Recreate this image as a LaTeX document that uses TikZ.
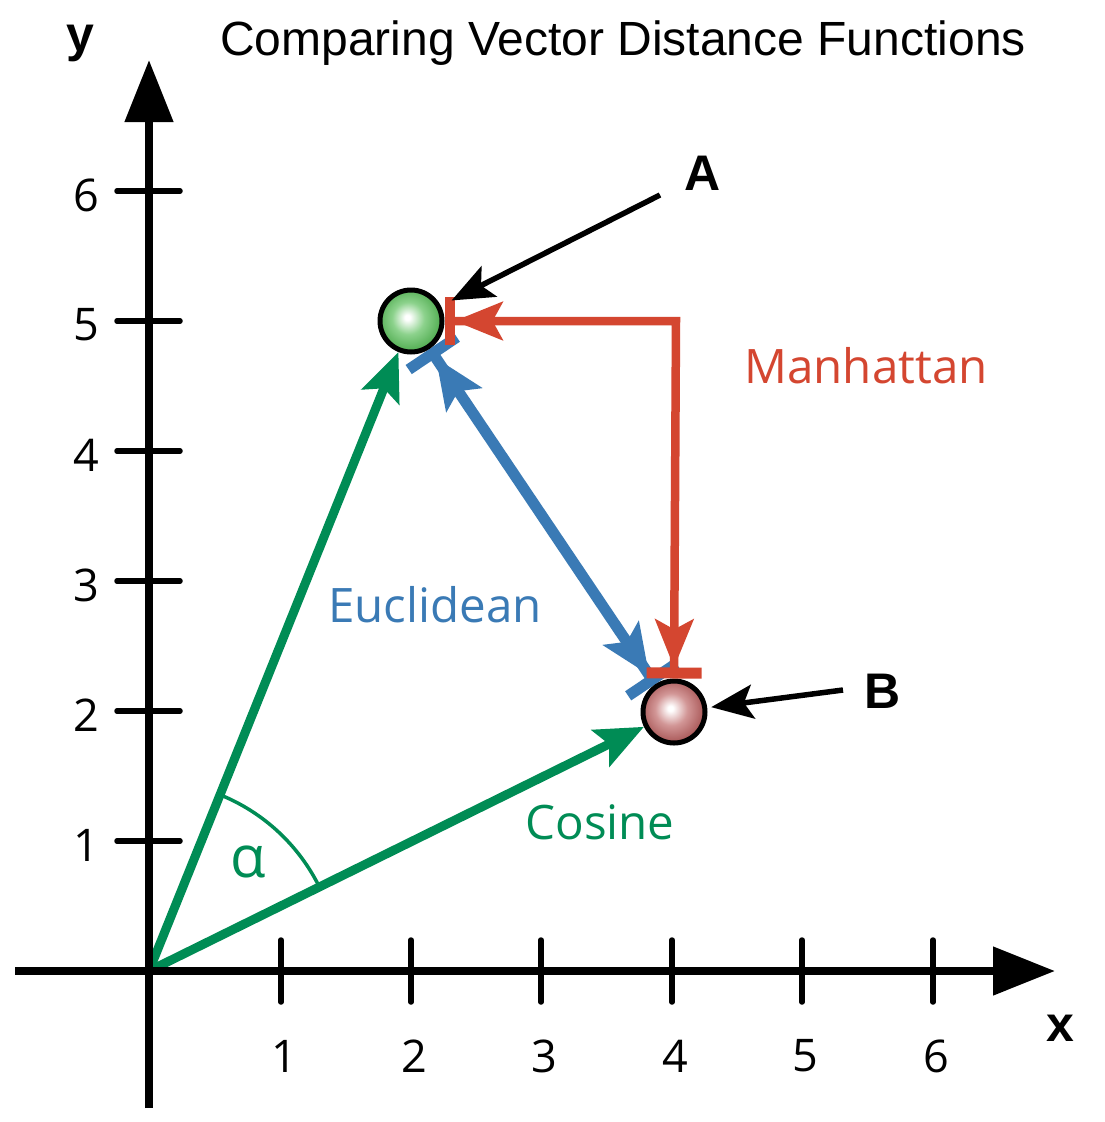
\documentclass[tikz,border=0pt]{standalone}
\usepackage{fontspec}
\setmainfont{Open Sans}
\newfontfamily\arialfont{Liberation Sans}
\usetikzlibrary{arrows.meta,calc,backgrounds}
\definecolor{cgreen}{RGB}{0,140,85}
\definecolor{cblue}{RGB}{58,122,181}
\definecolor{cred}{RGB}{212,70,48}
\definecolor{gedge}{RGB}{85,175,85}
\definecolor{gmid}{RGB}{140,210,140}
\definecolor{redge}{RGB}{172,92,92}
\definecolor{rmid}{RGB}{210,150,150}
\pgfdeclareradialshading{greenball}{\pgfpoint{-3bp}{3bp}}{color(0bp)=(white); color(2bp)=(white); color(13bp)=(gmid); color(25bp)=(gedge); color(50bp)=(gedge)}
\pgfdeclareradialshading{redball}{\pgfpoint{-3bp}{3bp}}{color(0bp)=(white); color(2bp)=(white); color(13bp)=(rmid); color(25bp)=(redge); color(50bp)=(redge)}
\begin{document}
\begin{tikzpicture}[x=1pt,y=-1pt,
  axis/.style={line width=8pt,-{Triangle[length=62pt,width=47pt]}},
  tickmark/.style={line width=5.5pt,line cap=round},
  ticklbl/.style={font=\fontsize{45}{54}\selectfont,inner sep=0pt},
  lbl/.style={font=\fontsize{47.5}{56}\selectfont,inner sep=0pt,anchor=base},
  boldlbl/.style={font=\arialfont\bfseries\fontsize{50}{60}\selectfont,inner sep=0pt},
  ballnode/.style={circle,draw=black,line width=5pt,minimum size=62pt,inner sep=0pt},
  vec/.style={cgreen,line width=9pt,-{Stealth[length=48pt,width=40pt,inset=9pt]}},
  pointer/.style={black,line width=5.5pt,-{Stealth[length=42pt,width=34pt,inset=9pt]}},
  eucl/.style={cblue,line width=11pt,
    {Bar[width=58pt,line width=11pt,sep=0pt]Stealth[length=50pt,width=42pt,inset=10pt,sep=0pt]}-{Stealth[length=50pt,width=42pt,inset=10pt,sep=0pt]Bar[width=58pt,line width=11pt,sep=0pt]}},
  manh/.style={cred,line width=8.5pt,
    {Bar[width=48pt,line width=10pt,sep=0pt]Stealth[length=48pt,width=38pt,inset=10pt,sep=0pt]}-{Stealth[length=48pt,width=38pt,inset=10pt,sep=0pt]Bar[width=55pt,line width=11pt,sep=0pt]}}
]
\useasboundingbox (0,0) rectangle (1104,1122);
\begin{pgfonlayer}{background}
  \fill[white] (0,0) rectangle (1104,1122);
\end{pgfonlayer}

% axes
\coordinate (O) at (149,971);
\draw[axis] (149,1108) -- (149,60);
\draw[axis] (15,971) -- (1055,971);
\foreach \i/\x in {1/281,2/411,3/541,4/672,5/802,6/933}{
  \draw[tickmark] (\x,940) -- (\x,1002);
  \node[ticklbl] (xl\i) at (\x+3,1056) {\i};
}
\foreach \i/\y in {1/841,2/711,3/581,4/451,5/321,6/191}{
  \draw[tickmark] (117,\y) -- (180,\y);
  \node[ticklbl] (yl\i) at (86,\y+4) {\i};
}
\node[boldlbl] (ylab) at (80,43) {y};
\node[boldlbl] (xlab) at (1060,1028) {x};
\node[font=\arialfont\fontsize{48}{57}\selectfont,inner sep=0pt,anchor=base] (title) at (623,55) {Comparing Vector Distance Functions};

% points
\node[ballnode,shading=greenball] (A) at (411,321) {};
\node[ballnode,shading=redball] (B) at (674,712) {};

\begin{pgfonlayer}{background}
  \draw[vec] (O) -- (A);
  \draw[vec] (O) -- (B);
  \draw[eucl] (A) -- (B);
\end{pgfonlayer}
\draw[cgreen,line width=3.5pt] (O) ++(26.3:190pt) arc[start angle=26.3,end angle=68,radius=190pt];
\node[font=\fontsize{58}{66}\selectfont,text=cgreen,inner sep=0pt] (alpha) at (248,862) {α};

\coordinate (corner) at (676,321);
\draw[manh] (A.east) -- (corner) -- (B.north);

% labels
\node[lbl,text=cred] (lm) at (866,383) {Manhattan};
\node[lbl,text=cblue] (le) at (435,622) {Euclidean};
\node[lbl,text=cgreen] (lc) at (600,839) {Cosine};

\node[boldlbl,anchor=base] (la) at (703,190) {A};
\node[boldlbl,anchor=base] (lb) at (883,708) {B};
\coordinate (pa) at (660,195);
\coordinate (pb) at (843,690);
\draw[pointer,shorten >=12pt] (pa) -- (A);
\draw[pointer,shorten >=4pt] (pb) -- (B);
\end{tikzpicture}
\end{document}
